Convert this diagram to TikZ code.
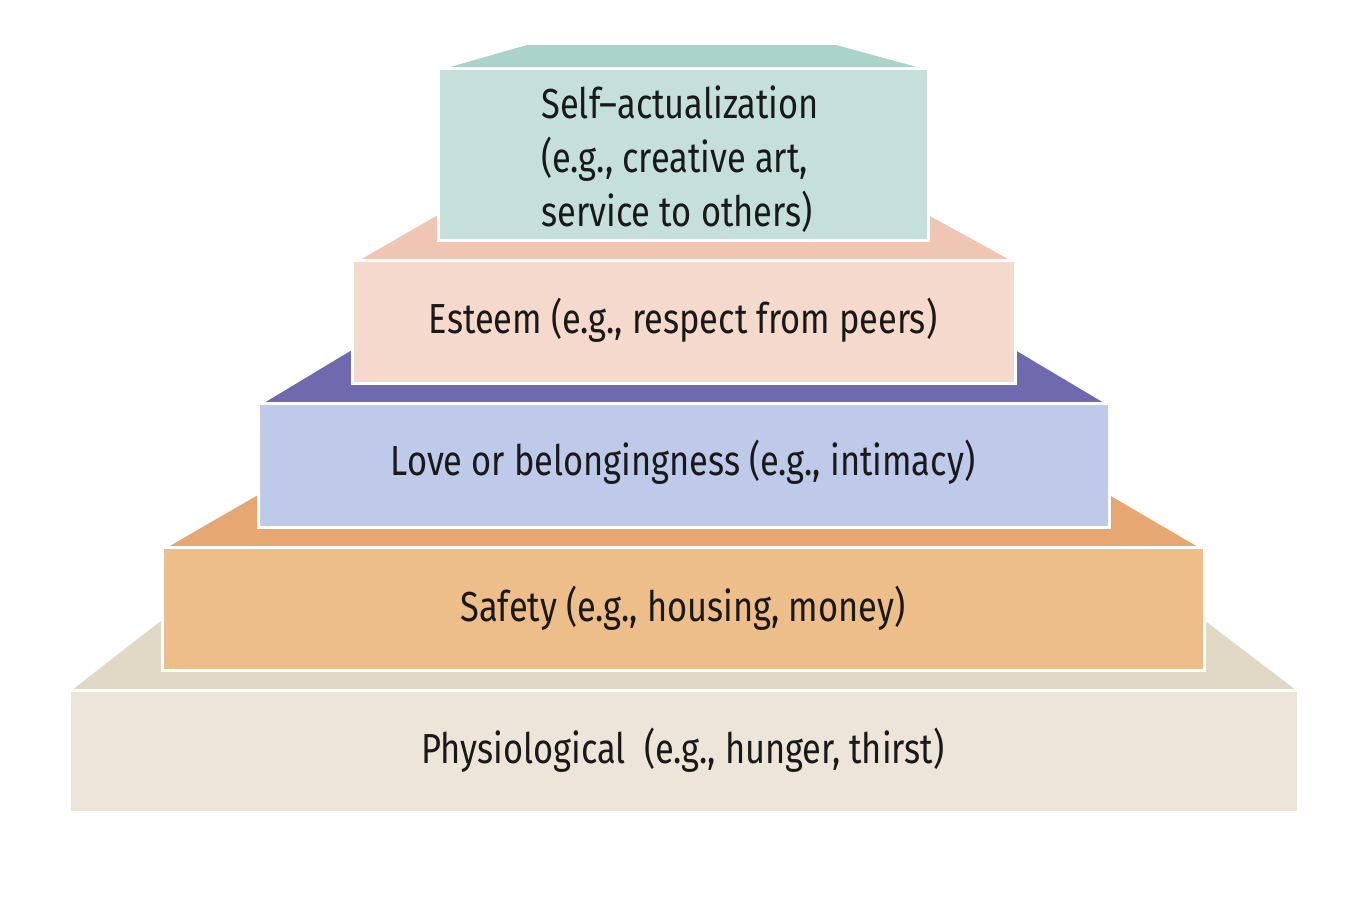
\documentclass[tikz,border=0pt]{standalone}
\usepackage{fontspec}
\setmainfont[FakeStretch=0.82]{Fira Sans}
\definecolor{saF}{HTML}{C5E0DA}\definecolor{saT}{HTML}{A9D3CB}
\definecolor{esF}{HTML}{F4D9CC}\definecolor{esT}{HTML}{EFC5B3}
\definecolor{loF}{HTML}{BFCAEA}\definecolor{loT}{HTML}{6E6AAD}
\definecolor{sfF}{HTML}{EDBD8A}\definecolor{sfT}{HTML}{E7A772}
\definecolor{phF}{HTML}{EDE5D9}\definecolor{phT}{HTML}{E2D8C6}
\tikzset{front/.style={draw=white,line width=1.5pt},
  lbl/.style={font=\fontsize{21}{27}\selectfont,text=black!90,inner sep=0pt}}
\begin{document}
\begin{tikzpicture}[x=0.5pt,y=-0.5pt]
\useasboundingbox (0,0) rectangle (1372,906);
% physiological
\fill[phT] (72,690) -- (162,620) -- (1204,620) -- (1296,690) -- cycle;
\draw[front,fill=phF] (69,690) rectangle (1298,812);
% safety
\fill[sfT] (168,547) -- (258,495) -- (1109,495) -- (1198,547) -- cycle;
\draw[front,fill=sfF] (162,547) rectangle (1204,670);
% love
\fill[loT] (264,403) -- (352,350) -- (1015,350) -- (1104,403) -- cycle;
\draw[front,fill=loF] (258,403) rectangle (1109,527);
% esteem
\fill[esT] (360,260) -- (438,215) -- (928,215) -- (1010,260) -- cycle;
\draw[front,fill=esF] (352,260) rectangle (1015,383);
% self-actualization
\fill[saT] (450,67) -- (527,45) -- (836,45) -- (917,67) -- cycle;
\draw[front,fill=saF] (438,68) rectangle (928,240);
\node[lbl,align=left,anchor=north west] (sa) at (541,85) {Self--actualization\\(e.g., creative art,\\service to others)};
\node[lbl] (es) at (683,320) {Esteem (e.g., respect from peers)};
\node[lbl] (lo) at (683,462) {Love or belongingness (e.g., intimacy)};
\node[lbl] (sf) at (683,608) {Safety (e.g., housing, money)};
\node[lbl] (ph) at (683,750) {Physiological\ \ (e.g., hunger, thirst)};
\end{tikzpicture}
\end{document}
